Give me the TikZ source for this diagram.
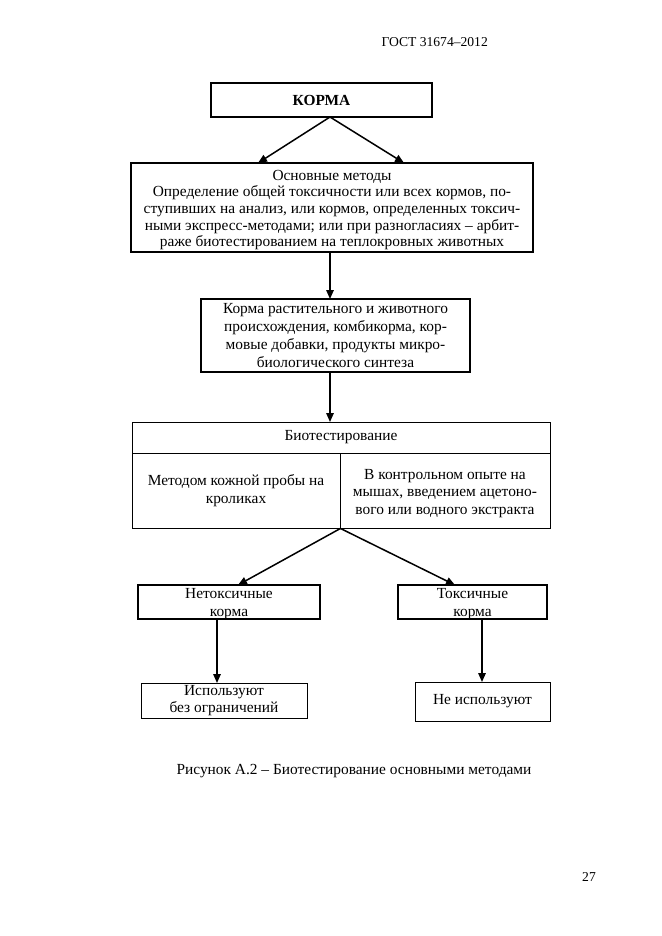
\documentclass[tikz,border=0pt]{standalone}
\usepackage{fontspec}
\setmainfont{Liberation Serif}
\usetikzlibrary{arrows.meta,calc}
\begin{document}
\begin{tikzpicture}[x=1pt,y=-1pt,
  every node/.style={font=\fontsize{15.4}{17.8}\selectfont},
  box/.style={draw,line width=1.6pt,inner sep=0pt,align=center},
  cell/.style={draw,line width=0.9pt,inner sep=0pt,align=center},
  arr/.style={line width=1.5pt,-{Triangle[length=9pt,width=7.5pt]}},
  plain/.style={inner sep=0pt,align=center}]
\useasboundingbox (0,0) rectangle (661,936);
% header
\node[plain,anchor=east,font=\fontsize{13.6}{16}\selectfont] (hdr) at (488,42) {ГОСТ 31674–2012};
% boxes
\node[box,minimum width=221,minimum height=34] (korma) at (321.5,100) {\textbf{КОРМА}};
\node[box,minimum width=402,minimum height=89] (osn) at (332,207.5) {};
\node[plain,font=\fontsize{15.4}{16.6}\selectfont] (osntext) at ($(osn.center)+(0,2.5)$) {Основные методы\\
Определение общей токсичности или всех кормов, по-\\
ступивших на анализ, или кормов, определенных токсич-\\
ными экспресс-методами; или при разногласиях – арбит-\\
раже биотестированием на теплокровных животных};
\node[box,minimum width=269,minimum height=73] (rast) at (335.5,335.5) {Корма растительного и животного\\
происхождения, комбикорма, кор-\\
мовые добавки, продукты микро-\\
биологического синтеза};
\node[cell,minimum width=418,minimum height=31] (biohead) at (341,437.5) {Биотестирование};
\node[cell,minimum width=208,minimum height=75] (bioleft) at (236,490.5) {Методом кожной пробы на\\ кроликах};
\node[cell,minimum width=210,minimum height=75] (bioright) at (445,490.5) {};
\node[plain] (biorighttext) at ($(bioright.center)+(0,3)$) {В контрольном опыте на\\ мышах, введением ацетоно-\\ вого или водного экстракта};
\node[box,minimum width=182,minimum height=34] (net) at (229,602) {};
\node[plain] (nettext) at ($(net.center)+(0,2)$) {Нетоксичные\\ корма};
\node[box,minimum width=149,minimum height=34] (tox) at (472.5,602) {};
\node[plain] (toxtext) at ($(tox.center)+(0,2)$) {Токсичные\\ корма};
\node[cell,minimum width=166,minimum height=35] (isp) at (224,700.5) {Используют\\ без ограничений};
\node[cell,minimum width=135,minimum height=39] (neisp) at (482.5,701.5) {Не используют};
% caption and page number
\node[plain] (cap) at (354,771) {Рисунок А.2 – Биотестирование основными методами};
\node[plain,font=\fontsize{13.6}{16}\selectfont] (pg) at (589,877) {27};
% connector points
\coordinate (kb) at (330,117);
\coordinate (o1) at (258,163);
\coordinate (o2) at (404,163);
\coordinate (ob) at (330,252);
\coordinate (rt) at (330,299);
\coordinate (rb) at (330,372);
\coordinate (bt) at (330,422);
\coordinate (n1) at (238,585);
\coordinate (t1) at (455,585);
\coordinate (nb) at (217,619);
\coordinate (it) at (217,683);
\coordinate (tb) at (482,619);
\coordinate (nt) at (482,682);
% connectors
\draw[arr] (kb) -- (o1);
\draw[arr] (kb) -- (o2);
\draw[arr] (ob) -- (rt);
\draw[arr] (rb) -- (bt);
\draw[arr] (bioleft.south east) -- (n1);
\draw[arr] (bioleft.south east) -- (t1);
\draw[arr] (nb) -- (it);
\draw[arr] (tb) -- (nt);
\end{tikzpicture}
\end{document}
